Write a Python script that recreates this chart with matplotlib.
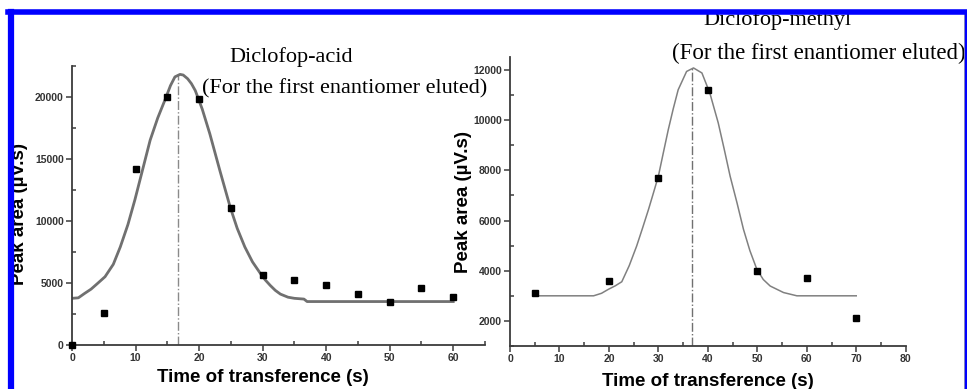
import numpy as np
import matplotlib
matplotlib.use("Agg")
import matplotlib.pyplot as plt
from matplotlib.lines import Line2D
from matplotlib.ticker import MultipleLocator

# Diclofop-acid (left panel)
acid_t = [0, 5, 10, 15, 20, 25, 30, 35, 40, 45, 50, 55, 60]
acid_area = [0, 2600, 14200, 20000, 19800, 11000, 5600, 5200, 4800, 4100, 3500, 4600, 3900]
# fitted curve
acid_fit_t = [0, 1, 2, 3, 4, 5.2, 6.5, 7.6, 8.8, 9.9, 11.1, 12.3, 13.5, 14.6, 15.5, 16.2,
              17.0, 17.5, 18.2, 18.8, 19.4, 20.5, 21.7, 23.3, 24.9, 26.0, 27.2, 28.4, 29.6,
              30.4, 31.2, 32.0, 32.8, 34.0, 35.0, 36.5, 37.0, 40, 45, 50, 55, 60]
acid_fit = [3760, 3800, 4160, 4500, 4950, 5500, 6500, 7900, 9700, 11700, 14100, 16500, 18300,
            19700, 20900, 21600, 21800, 21750, 21450, 21050, 20500, 19000, 17000, 14000,
            11100, 9400, 7900, 6700, 5800, 5250, 4800, 4400, 4100, 3850, 3760, 3700, 3500,
            3500, 3500, 3500, 3500, 3500]
acid_peak = 16.7

# Diclofop-methyl (right panel)
methyl_t = [5, 20, 30, 40, 50, 60, 70]
methyl_area = [3100, 3600, 7700, 11200, 4000, 3700, 2100]
methyl_fit_t = [5, 10, 16.9, 18.5, 19.9, 21.3, 22.6, 24.1, 25.6, 26.8, 28.0, 29.0, 30.0,
                31.0, 32.0, 33.0, 34.0, 35.7, 37.1, 38.8, 40.4, 42.1, 43.3, 44.5, 45.9,
                47.2, 48.5, 49.9, 51.2, 52.6, 55.3, 58.0, 65, 70]
methyl_fit = [3000, 3000, 3000, 3100, 3260, 3400, 3560, 4200, 4980, 5700, 6440, 7100, 7770,
              8700, 9620, 10450, 11210, 11940, 12080, 11880, 11080, 9890, 8850, 7770, 6700,
              5650, 4800, 4060, 3650, 3390, 3130, 3000, 3000, 3000]
methyl_peak = 36.7

W, H = 967, 389
fig = plt.figure(figsize=(W / 100, H / 100), dpi=100)

spine_col = "#3c3c3c"


def style(ax):
    for s in ["top", "right"]:
        ax.spines[s].set_visible(False)
    for s in ["left", "bottom"]:
        ax.spines[s].set_color(spine_col)
        ax.spines[s].set_linewidth(1.3)
    ax.tick_params(which="major", direction="out", length=4, width=1.1, color=spine_col, pad=2)
    ax.tick_params(which="minor", direction="in", length=3, width=1.1, color=spine_col)
    for lab in ax.get_xticklabels() + ax.get_yticklabels():
        lab.set_fontfamily("Liberation Sans")
        lab.set_fontweight("bold")
        lab.set_fontsize(7.5)
        lab.set_color("#333333")
    ax.set_ylabel("Peak area (\u00b5V.s)", fontfamily="Liberation Sans",
                  fontweight="bold", fontsize=13.5)
    ax.patch.set_alpha(0)


# left panel
ax1 = fig.add_axes([72 / W, 1 - 345 / H, (485 - 72) / W, (345 - 65.7) / H])
ax1.set_xlim(0, 65)
ax1.set_ylim(0, 22500)
ax1.set_xticks(np.arange(0, 61, 10))
ax1.xaxis.set_minor_locator(MultipleLocator(5))
ax1.yaxis.set_major_locator(MultipleLocator(5000))
ax1.yaxis.set_minor_locator(MultipleLocator(2500))
ax1.plot(acid_fit_t, acid_fit, color="#707070", lw=2.0, zorder=2)
ax1.plot([acid_peak, acid_peak], [0, max(acid_fit)], color="#8a8a8a", lw=1.0,
         linestyle="-.", zorder=1)
ax1.plot(acid_t, acid_area, "s", color="black", markersize=4.3, clip_on=False, zorder=3)
style(ax1)
ax1.yaxis.set_label_coords(-0.107, 0.47)

# right panel
ax2 = fig.add_axes([510 / W, 1 - 346 / H, (905.7 - 510) / W, (346 - 57.4) / H])
ax2.set_xlim(0, 80)
ax2.set_ylim(1000, 12500)
ax2.xaxis.set_major_locator(MultipleLocator(10))
ax2.xaxis.set_minor_locator(MultipleLocator(5))
ax2.set_yticks(np.arange(2000, 12001, 2000))
ax2.yaxis.set_minor_locator(MultipleLocator(1000))
ax2.plot(methyl_fit_t, methyl_fit, color="#808080", lw=1.1, zorder=2)
ax2.plot([methyl_peak, methyl_peak], [1000, max(methyl_fit)], color="#707070", lw=1.0,
         linestyle="-.", zorder=1)
ax2.plot(methyl_t, methyl_area, "s", color="black", markersize=4.3, zorder=3)
style(ax2)
ax2.yaxis.set_label_coords(-0.096, 0.5)

# x labels
sans_b = dict(fontfamily="Liberation Sans", fontweight="bold", fontsize=13.5)
fig.text(263 / W, 1 - 378 / H, "Time of transference (s)", ha="center", va="center", **sans_b)
fig.text(708 / W, 1 - 373 / H, "Time of transference (s)", ha="center", va="top", **sans_b)

# titles
serif = "Liberation Serif"
fig.text(291 / W, 1 - 57 / H, "Diclofop-acid", ha="center", va="center",
         fontfamily=serif, fontsize=16)
fig.text(202 / W, 1 - 89 / H, "(For the first enantiomer eluted)", ha="left",
         va="center", fontfamily=serif, fontsize=16)
fig.text(777 / W, 1 - 20 / H, "Diclofop-methyl", ha="center", va="center",
         fontfamily=serif, fontsize=16)
fig.text(672 / W, 1 - 53 / H, "(For the first enantiomer eluted)", ha="left",
         va="center", fontfamily=serif, fontsize=16.5)

# blue frame
blue = "#0000ff"
fig.add_artist(Line2D([11 / W, 11 / W], [0, 1 - 11.5 / H], color=blue, lw=4.5,
                      transform=fig.transFigure, zorder=10))
fig.add_artist(Line2D([8 / W, 1], [1 - 11.5 / H, 1 - 11.5 / H], color=blue, lw=4,
                      transform=fig.transFigure, zorder=10))
fig.add_artist(Line2D([966 / W, 966 / W], [0, 1 - 11.5 / H], color=blue, lw=2.5,
                      transform=fig.transFigure, zorder=10))
fig.add_artist(Line2D([964 / W, 964 / W], [0, 1 - 14 / H], color="#aaaaaa", lw=0.7,
                      transform=fig.transFigure, zorder=9))

fig.savefig("out.png", dpi=100)
